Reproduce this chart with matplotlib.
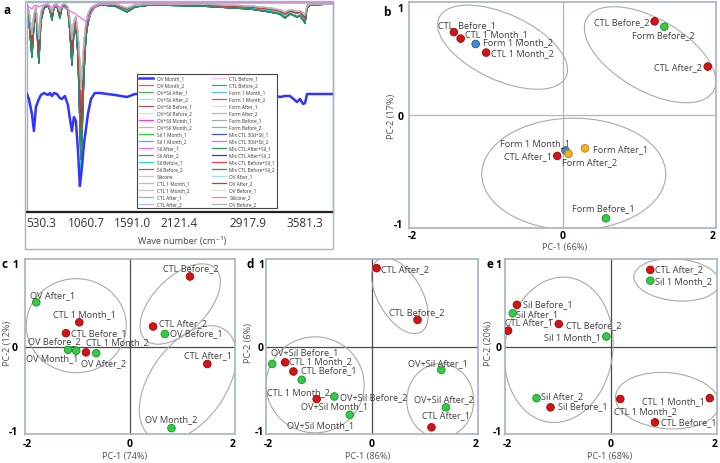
import matplotlib
matplotlib.use("Agg")
import matplotlib.pyplot as plt
import matplotlib.transforms as mtransforms
from matplotlib.patches import Ellipse, Rectangle

plt.rcParams['font.family'] = ['Open Sans', 'DejaVu Sans']

# ---------------- Panel a: FTIR spectra ----------------
wavenumber = [370, 392, 427, 450, 473, 507, 531, 566, 612, 635, 658, 681, 716, 750, 773, 808,
              843, 866, 889, 912, 935, 958, 981, 993, 1005, 1028, 1051, 1074, 1109, 1155, 1213,
              1386, 1525, 1618, 1791, 2369, 2947, 3178, 3294, 3351, 3409, 3490, 3525, 3560, 3583,
              3606, 3640, 3906]

profile_deep = [205, 193, 158, 188, 201, 151, 193, 205, 207, 203, 193, 205, 207, 195, 205, 207,
                203, 183, 151, 183, 188, 163, 103, 43, 83, 143, 178, 191, 201, 206, 208,
                207, 201, 206, 208, 207, 204, 201, 199, 195, 199, 196, 197, 193, 190,
                205, 208, 208]
profile_deep2 = [204, 191, 155, 186, 200, 149, 191, 204, 206, 202, 192, 204, 206, 194, 204, 206,
                 202, 180, 147, 180, 186, 158, 88, 53, 73, 138, 175, 189, 200, 205, 207,
                 206, 200, 205, 207, 206, 203, 200, 198, 194, 198, 195, 196, 192, 189,
                 204, 207, 208]
profile_mid = [206, 198, 168, 193, 203, 161, 197, 206, 207, 204, 197, 206, 207, 198, 206, 207,
               204, 188, 161, 187, 191, 171, 123, 83, 108, 155, 183, 195, 203, 207, 208,
               207, 203, 207, 208, 207, 205, 203, 201, 198, 201, 199, 200, 196, 194,
               206, 208, 208]
profile_shallow = [207, 201, 178, 197, 205, 173, 200, 207, 208, 205, 200, 207, 208, 201, 207, 208,
                   205, 193, 173, 191, 195, 179, 148, 123, 138, 168, 189, 198, 204, 207, 208,
                   208, 204, 207, 208, 208, 206, 204, 202, 200, 202, 201, 201, 199, 197,
                   206, 208, 208]
profile_smooth = [208, 205, 203, 206, 207, 205, 206, 207, 207, 206, 205, 206, 206, 205, 205, 204,
                  203, 201, 200, 199, 198, 196, 195, 194, 193, 192, 191, 193, 198, 205, 208,
                  209, 209, 209, 209, 209, 209, 209, 209, 209, 209, 209, 209, 209, 209,
                  209, 209, 209]
profile_offset = [118, 113, 98, 81, 105, 113, 117, 119, 117, 119, 116, 119, 118, 114, 113, 116,
                  107, 93, 81, 95, 91, 63, 26, 35, 45, 68, 83, 98, 113, 119, 119,
                  117, 115, 118, 118, 118, 118, 118, 115, 116, 116, 110, 113, 108, 109,
                  118, 118, 118]

spectra_names = [
    "OV Month_1", "OV Month_2", "OV+Sil After_1", "OV+Sil After_2", "OV+Sil Before_1",
    "OV+Sil Before_2", "OV+Sil Month_1", "OV+Sil Month_2", "Sil 1 Month_1", "Sil 1 Month_2",
    "Sil After_1", "Sil After_2", "Sil Before_1", "Sil Before_2", "Silicone",
    "CTL 1 Month_1", "CTL 1 Month_2", "CTL After_1", "CTL After_2",
    "CTL Before_1", "CTL Before_2", "Form 1 Month_1", "Form 1 Month_2", "Form After_1",
    "Form After_2", "Form Before_1", "Form Before_2", "Mix CTL 30d+Sil_1", "Mix CTL 30d+Sil_2",
    "Mix CTL After+Sil_1", "Mix CTL After+Sil_2", "Mix CTL Before+Sil_1", "Mix CTL Before+Sil_2",
    "OV After_1", "OV After_2", "OV Before_1", "Silicone_2", "OV Before_2"]
spectra_profile = [
    "offset", "mid", "deep2", "shallow", "mid", "shallow", "mid", "shallow", "deep", "deep2",
    "mid", "deep2", "deep", "mid", "shallow", "shallow", "shallow", "deep", "shallow",
    "shallow", "deep2", "deep", "mid", "shallow", "shallow", "shallow", "deep", "deep2", "mid",
    "deep2", "deep2", "mid", "deep2", "shallow", "mid", "shallow", "smooth", "shallow"]
spectra_colors = [
    "#3333ff", "#ef5350", "#4caf68", "#aed6f1", "#c0504d", "#dcdcdc", "#ff33ff", "#b8b8b8",
    "#22dd22", "#33bbee", "#ff66ff", "#3d9970", "#22ddee", "#ee4444", "#c8c8c8", "#f5b07a",
    "#c4c4c4", "#22f0a0", "#b8b8f5",
    "#ffbbee", "#33aa55", "#55bbee", "#dd5555", "#e0e0e0", "#f4a582", "#a8a8a8", "#33ddaa",
    "#4455ee", "#ee66cc", "#2e9960", "#3333dd", "#ee4444", "#2e9950", "#b0d8f0", "#b04040",
    "#dcdcdc", "#f070f0", "#b0b0b0"]
wn_ticks = [530.3, 1060.7, 1591.0, 2121.4, 2917.9, 3581.3]
wn_tick_labels = ["530.3", "1060.7", "1591.0", "2121.4", "2917.9", "3581.3"]

# ---------------- Panel b ----------------
b_names = ["CTL  Before_1", "CTL 1 Month_1", "Form 1 Month_2", "CTL 1 Month_2", "CTL Before_2",
           "Form Before_2", "CTL After_2", "Form 1 Month_1", "CTL After_1", "Form After_2",
           "Form After_1", "Form Before_1"]
b_pc1 = [-1.45, -1.36, -1.16, -1.02, 1.23, 1.36, 1.94, 0.04, -0.07, 0.08, 0.30, 0.58]
b_pc2 = [0.77, 0.71, 0.66, 0.58, 0.87, 0.82, 0.45, -0.33, -0.38, -0.36, -0.31, -0.96]
b_group = ["CTL", "CTL", "Form1M", "CTL", "CTL", "FormB", "CTL", "Form1M", "CTL", "FormA",
           "FormA", "FormB"]

# ---------------- Panel c ----------------
c_names = ["OV After_1", "CTL 1 Month_1", "CTL Before_1", "OV Before_2", "OV Month_1",
           "CTL 1 Month_2", "OV After_2", "CTL Before_2", "CTL After_2", "OV Before_1",
           "CTL After_1", "OV Month_2"]
c_pc1 = [-1.83, -0.99, -1.25, -1.21, -1.05, -0.86, -0.66, 1.17, 0.45, 0.68, 1.51, 0.81]
c_pc2 = [0.53, 0.29, 0.16, -0.04, -0.05, -0.07, -0.08, 0.84, 0.24, 0.15, -0.21, -0.98]
c_group = ["OV", "CTL", "CTL", "OV", "OV", "CTL", "OV", "CTL", "CTL", "OV", "CTL", "OV"]

# ---------------- Panel d ----------------
d_names = ["CTL After_2", "CTL Before_2", "OV+Sil Before_1", "CTL 1 Month_2", "CTL Before_1",
           "CTL 1 Month_2", "OV+Sil Month_1", "OV+Sil Before_2", "OV+Sil Month_1",
           "OV+Sil After_1", "OV+Sil After_2", "CTL After_1"]
d_pc1 = [0.09, 0.88, -1.93, -1.68, -1.52, -1.36, -1.07, -0.73, -0.43, 1.34, 1.43, 1.15]
d_pc2 = [0.94, 0.32, -0.21, -0.19, -0.30, -0.40, -0.63, -0.60, -0.82, -0.28, -0.73, -0.97]
d_group = ["CTL", "CTL", "OVS", "CTL", "CTL", "OVS", "CTL", "OVS", "OVS", "OVS", "OVS", "CTL"]

# ---------------- Panel e ----------------
e_names = ["CTL After_2", "Sil 1 Month_2", "Sil Before_1", "Sil After_1", "CTL After_1",
           "CTL Before_2", "Sil 1 Month_1", "Sil After_2", "Sil Before_1", "CTL 1 Month_2",
           "CTL 1 Month_1", "CTL Before_1"]
e_pc1 = [0.76, 0.76, -1.82, -1.90, -1.99, -1.01, -0.09, -1.44, -1.17, 0.18, 1.91, 0.85]
e_pc2 = [0.92, 0.79, 0.50, 0.40, 0.19, 0.27, 0.12, -0.62, -0.73, -0.63, -0.62, -0.91]
e_group = ["CTL", "Sil", "CTL", "Sil", "CTL", "CTL", "Sil", "Sil", "CTL", "CTL", "CTL", "CTL"]

# ---------------- styles / layout ----------------
DPI = 100
W, H = 720, 464
FRAME = "#a3b5c3"
LABEL_C = "#3e3e3e"
RED, RED_E = "#dd1111", "#8a0d0d"
GREEN, GREEN_E = "#33cc44", "#1f8a2c"
BLUE, BLUE_E = "#3a8fdc", "#1f5a99"
ORANGE, ORANGE_E = "#f6b21c", "#b07a10"
group_style = {"CTL": (RED, RED_E), "Form1M": (BLUE, BLUE_E), "FormB": (GREEN, GREEN_E),
               "FormA": (ORANGE, ORANGE_E), "OV": (GREEN, GREEN_E), "OVS": (GREEN, GREEN_E),
               "Sil": (GREEN, GREEN_E)}

fig = plt.figure(figsize=(W / DPI, H / DPI), dpi=DPI)


def px_box(x0, y0, x1, y1):
    return [x0 / W, 1 - y1 / H, (x1 - x0) / W, (y1 - y0) / H]


def fig_text(x, y, s, **kw):
    fig.text(x / W, 1 - y / H, s, **kw)


# ---- panel a ----
profiles = {"deep": profile_deep, "deep2": profile_deep2, "mid": profile_mid,
            "shallow": profile_shallow, "smooth": profile_smooth, "offset": profile_offset}
axa = fig.add_axes(px_box(27, 3, 333, 213))
handles = []
for name, col, prof in zip(spectra_names, spectra_colors, spectra_profile):
    lw = 1.8 if prof == "offset" else 0.9
    z = 4 if prof == "offset" else (3 if prof == "smooth" else 2)
    ln, = axa.plot(wavenumber, profiles[prof], color=col, lw=lw, zorder=z, label=name)
    handles.append(ln)
axa.set_xlim(370, 3906)
axa.set_ylim(0, 210)
axa.set_yticks([])
axa.set_xticks(wn_ticks)
axa.set_xticklabels(wn_tick_labels)
axa.tick_params(axis="x", length=0, pad=3, labelsize=8.5, labelcolor="#333333")
for sp in axa.spines.values():
    sp.set_color(FRAME)
    sp.set_linewidth(1.0)
axa.spines["bottom"].set_color("#222222")
axa.spines["bottom"].set_linewidth(1.6)
leg = axa.legend(handles=handles, ncol=2, fontsize=3.4, loc="lower left",
                 bbox_to_anchor=(0.353, 0.006, 0.471, 0.64), mode="expand",
                 fancybox=False, framealpha=1, edgecolor="#444444", borderpad=0.35,
                 handlelength=3.0, handletextpad=0.7, columnspacing=1.0, labelspacing=0.43)
leg.get_frame().set_linewidth(0.8)
leg.set_zorder(10)
for t in leg.get_texts():
    t.set_color("#333333")
fig.patches.append(Rectangle((25 / W, 1 - 250 / H), 308 / W, 248 / H, transform=fig.transFigure,
                             fill=False, ec=FRAME, lw=1.0))
fig_text(182, 242, "Wave number (cm⁻¹)", ha="center", va="center", fontsize=6.6, color="#444444")
fig_text(7, 10, "a", ha="center", va="center", fontsize=8.5, fontweight="bold")


# ---- PCA panels ----
def add_ellipse(ax, cx, cy, w_px, h_px, ang):
    tr = fig.dpi_scale_trans + mtransforms.ScaledTranslation(cx, cy, ax.transData)
    e = Ellipse((0, 0), w_px / DPI, h_px / DPI, angle=ang, transform=tr, fill=False,
                ec="#a9a9a9", lw=0.8, zorder=2)
    ax.add_artist(e)


def pca_panel(box, names, pc1, pc2, groups, offsets, ellipses, zero_color, ylim, ytick_pad,
              xtick_pad, xlab, xlab_xy, ylab, ylab_xy, letter, letter_xy):
    ax = fig.add_axes(px_box(*box))
    ax.set_xlim(-2.05, 2.05)
    ax.set_ylim(-ylim, ylim)
    ax.axhline(0, color=zero_color, lw=0.9, zorder=1)
    ax.axvline(0, color=zero_color, lw=0.9, zorder=1)
    for (cx, cy, w, h, a) in ellipses:
        add_ellipse(ax, cx, cy, w, h, a)
    fc = [group_style[g][0] for g in groups]
    ec = [group_style[g][1] for g in groups]
    ax.scatter(pc1, pc2, c=fc, edgecolors=ec, s=30, linewidths=0.6, zorder=5)
    for name, x, y, (dx, dy, ha) in zip(names, pc1, pc2, offsets):
        ax.annotate(name, (x, y), xytext=(dx, -dy), textcoords="offset pixels", ha=ha,
                    va="center", fontsize=6.6, color=LABEL_C, zorder=6)
    ax.set_xticks([-2, 0, 2])
    ax.set_xticklabels(["-2", "0", "2"], fontweight="bold")
    ax.set_yticks([-1, 0, 1])
    ax.set_yticklabels(["-1", "0", "1"], fontweight="bold")
    ax.tick_params(axis="both", length=0, labelsize=7.5, labelcolor="black")
    ax.tick_params(axis="y", pad=ytick_pad)
    ax.tick_params(axis="x", pad=xtick_pad)
    for sp in ax.spines.values():
        sp.set_color(FRAME)
        sp.set_linewidth(1.2)
    fig_text(xlab_xy[0], xlab_xy[1], xlab, ha="center", va="center", fontsize=6.6, color="#505050")
    fig_text(ylab_xy[0], ylab_xy[1], ylab, ha="center", va="center", rotation=90, fontsize=6.6,
             color="#505050")
    fig_text(letter_xy[0], letter_xy[1], letter, ha="center", va="center", fontsize=8.5,
             fontweight="bold")
    return ax


# label offsets in pixels (dx right, dy down) and alignment
b_offsets = [(-16, -8, "left"), (4, -5, "left"), (7, -2, "left"), (5, 0, "left"),
             (-5, 0, "right"), (-32, 8, "left"), (-6, 0, "right"), (-65, -8, "left"),
             (-5, 0, "right"), (-6, 8, "left"), (8, 0, "left"), (-34, -11, "left")]
b_ellipses = [(-0.80, 0.63, 140, 66, -25), (1.17, 0.56, 146, 72, -30), (0.15, -0.55, 184, 112, 0)]
pca_panel((409, 3, 716, 229), b_names, b_pc1, b_pc2, b_group, b_offsets, b_ellipses,
          "#b5b5b5", 1.05, 4.0, 1.5, "PC-1 (66%)", (565, 248), "PC-2 (17%)", (392, 116),
          "b", (387, 12))

c_offsets = [(-6, -8, "left"), (-26, -9, "left"), (5, -1, "left"), (-40, -9, "left"),
             (-50, 7, "left"), (0, -11, "left"), (-15, 9, "left"), (1, -9, "center"),
             (6, -4, "left"), (5, -1, "left"), (1, -9, "center"), (0, -10, "center")]
c_ellipses = [(-1.05, 0.25, 100, 94, 0), (0.98, 0.51, 100, 54, 45), (1.13, -0.44, 130, 76, 55)]
pca_panel((25, 260, 235, 435), c_names, c_pc1, c_pc2, c_group, c_offsets, c_ellipses,
          "#4a4a4a", 1.05, 5.0, 3.0, "PC-1 (74%)", (125, 457), "PC-2 (12%)", (8, 343),
          "c", (5, 265))

d_offsets = [(4, 0, "left"), (-29, -8, "left"), (-1, -12, "left"), (4, -2, "left"),
             (8, -2, "left"), (-35, 12, "left"), (-16, 7, "left"), (6, 0, "left"),
             (-63, 10, "left"), (-33, -7, "left"), (-32, -9, "left"), (-9, -13, "left")]
d_ellipses = [(0.54, 0.61, 84, 44, -60), (-1.10, -0.46, 98, 96, 0), (1.32, -0.65, 67, 74, 0)]
pca_panel((266, 260, 478, 435), d_names, d_pc1, d_pc2, d_group, d_offsets, d_ellipses,
          "#4a4a4a", 1.05, 1.5, 3.0, "PC-1 (86%)", (368, 457), "PC-2 (6%)", (248, 343),
          "d", (250, 265))

e_offsets = [(5, -1, "left"), (5, 0, "left"), (6, -1, "left"), (3, 0, "left"),
             (-3, -9, "left"), (7, 1, "left"), (-5, 0, "right"), (4, -3, "left"),
             (7, -2, "left"), (-6, 12, "left"), (-5, 2, "right"), (6, -1, "left")]
e_ellipses = [(1.27, 0.80, 86, 42, -5), (-1.01, -0.04, 146, 108, 82), (1.09, -0.65, 104, 56, -5)]
pca_panel((505, 260, 717, 435), e_names, e_pc1, e_pc2, e_group, e_offsets, e_ellipses,
          "#4a4a4a", 1.05, 2.5, 3.0, "PC-1 (68%)", (610, 457), "PC-2 (20%)", (488, 343),
          "e", (490, 265))

fig.savefig("out.png", dpi=DPI)
